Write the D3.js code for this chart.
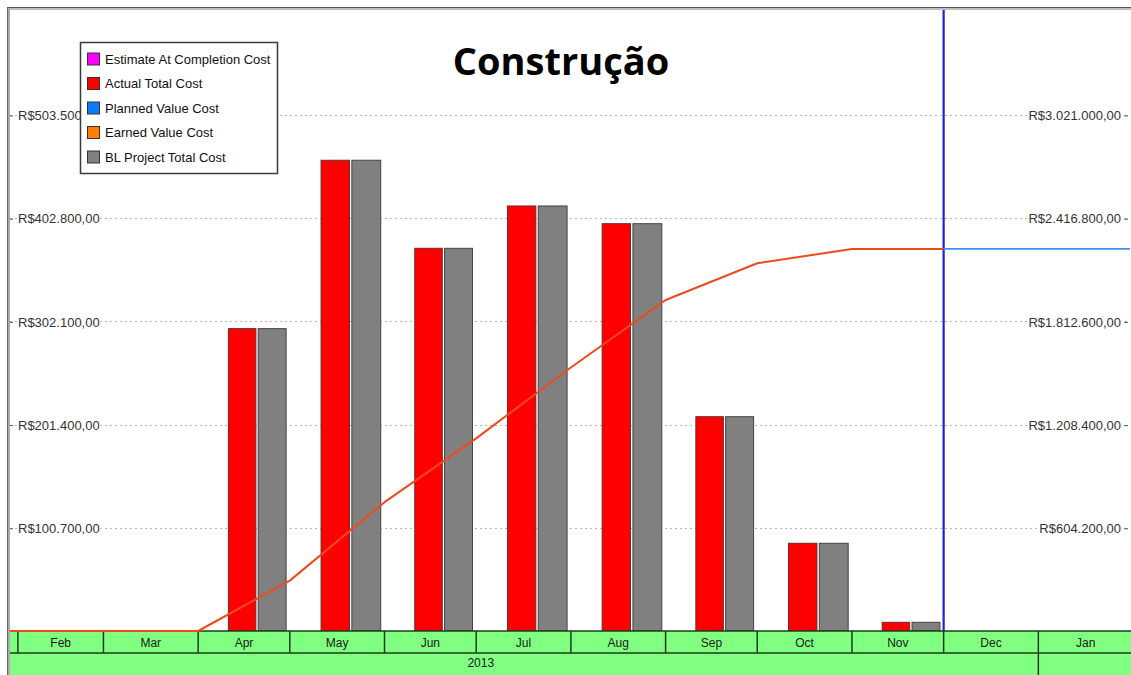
<!DOCTYPE html>
<html>
<head>
<meta charset="utf-8">
<script src="https://cdn.jsdelivr.net/npm/d3@7"></script>
<style>
  body { margin: 0; background: #fff; }
  svg { display: block; }
  text { font-family: "Liberation Sans", Arial, sans-serif; }
</style>
</head>
<body>
<svg id="chart" width="1131" height="675"></svg>
<script>
// ---- data -------------------------------------------------------------
const barMonths = ["2013-04-01", "2013-05-01", "2013-06-01", "2013-07-01",
                   "2013-08-01", "2013-09-01", "2013-10-01", "2013-11-01"];
const actualTotalCost    = [295000, 459300, 373400, 414700, 397400, 209100, 85600, 8500];
const blProjectTotalCost = [295000, 459300, 373400, 414700, 397400, 209100, 85600, 8500];

// cumulative earned value (right axis)
const earnedValueDates = ["2013-01-29", "2013-04-01", "2013-05-01", "2013-06-01", "2013-07-01",
                          "2013-08-01", "2013-09-01", "2013-10-01", "2013-11-01", "2013-12-01"];
const earnedValueCost  = [0, 0, 295000, 754300, 1127700, 1542400, 1938000, 2153000, 2236000, 2237000];

// planned value after the status date (right axis)
const plannedValueDates = ["2013-12-01", "2014-01-31"];
const plannedValueCost  = [2237000, 2237000];

const statusDate = "2013-12-01";

const leftTicks  = [100700, 201400, 302100, 402800, 503500];
const rightTicks = [604200, 1208400, 1812600, 2416800, 3021000];

const monthStarts = ["2013-02-01", "2013-03-01", "2013-04-01", "2013-05-01", "2013-06-01", "2013-07-01",
                     "2013-08-01", "2013-09-01", "2013-10-01", "2013-11-01", "2013-12-01", "2014-01-01"];
const monthLabels = ["Feb", "Mar", "Apr", "May", "Jun", "Jul", "Aug", "Sep", "Oct", "Nov", "Dec", "Jan"];
const yearStarts  = ["2013-01-01", "2014-01-01"];
const yearLabels  = ["2013", ""];

const legendNames  = ["Estimate At Completion Cost", "Actual Total Cost", "Planned Value Cost",
                      "Earned Value Cost", "BL Project Total Cost"];
const legendColors = ["#ff00ff", "#ff0000", "#0a7cff", "#ff8000", "#808080"];

const title = "Construção";

// ---- setup ------------------------------------------------------------
const parse = d3.utcParse("%Y-%m-%d");
const svg = d3.select("#chart");

const plot = { left: 10, right: 1130, top: 10, bottom: 631 };
const band = { monthTop: 631, monthBottom: 653, yearBottom: 675 };

const x = d3.scaleUtc()
  .domain([new Date(Date.UTC(2013, 0, 29, 10)), new Date(Date.UTC(2014, 0, 31))])
  .range([plot.left, plot.right]);

const yLeft = d3.scaleLinear().domain([0, 605900]).range([plot.bottom, plot.top]);
const yRight = d3.scaleLinear().domain([0, 605900 * 6]).range([plot.bottom, plot.top]);

const brl = d3.formatLocale({ decimal: ",", thousands: ".", grouping: [3], currency: ["R$", ""] });
const fmt = brl.format("$,.2f");

svg.append("defs").append("clipPath").attr("id", "bandClip")
  .append("rect").attr("x", plot.left).attr("y", band.monthTop)
  .attr("width", plot.right - plot.left).attr("height", band.yearBottom - band.monthTop);

// ---- gridlines --------------------------------------------------------
svg.append("g").selectAll("line").data(leftTicks).join("line")
  .attr("x1", plot.left).attr("x2", plot.right)
  .attr("y1", d => Math.round(yLeft(d)) + 0.5).attr("y2", d => Math.round(yLeft(d)) + 0.5)
  .attr("stroke", "#b5b5b5").attr("stroke-dasharray", "2,3");

// ---- axes -------------------------------------------------------------
function styleAxis(g) {
  g.select(".domain").remove();
  g.selectAll(".tick line").attr("stroke", "#555");
  g.selectAll(".tick text").attr("fill", "#333").attr("font-size", 13)
    .attr("font-family", "'Liberation Sans', Arial, sans-serif");
  g.selectAll(".tick").each(function () {
    const t = d3.select(this).select("text");
    const b = t.node().getBBox();
    d3.select(this).insert("rect", "text")
      .attr("x", b.x - 1).attr("y", b.y).attr("width", b.width + 2).attr("height", b.height)
      .attr("fill", "#fff");
  });
}

const leftAxis = svg.append("g")
  .attr("transform", `translate(${plot.left},0.5)`)
  .call(d3.axisRight(yLeft).tickValues(leftTicks).tickSize(3).tickPadding(5).tickFormat(fmt));
styleAxis(leftAxis);

const rightAxis = svg.append("g")
  .attr("transform", `translate(${plot.right - 2},0.5)`)
  .call(d3.axisLeft(yRight).tickValues(rightTicks).tickSize(4).tickPadding(3).tickFormat(fmt));
styleAxis(rightAxis);

// ---- bars -------------------------------------------------------------
const bars = barMonths.map((m, i) => {
  const start = parse(m);
  const end = d3.utcMonth.offset(start, 1);
  return { start, end, actual: actualTotalCost[i], bl: blProjectTotalCost[i] };
});

const barG = svg.append("g");
bars.forEach(b => {
  const x0 = x(b.start), w = x(b.end) - x0;
  barG.append("rect")
    .attr("x", x0 + 0.33 * w).attr("width", 0.30 * w)
    .attr("y", yLeft(b.actual)).attr("height", yLeft(0) - yLeft(b.actual))
    .attr("fill", "#ff0000").attr("stroke", "#6a2a2a").attr("stroke-width", 1);
  barG.append("rect")
    .attr("x", x0 + 0.655 * w).attr("width", 0.305 * w)
    .attr("y", yLeft(b.bl)).attr("height", yLeft(0) - yLeft(b.bl))
    .attr("fill", "#808080").attr("stroke", "#444").attr("stroke-width", 1);
});

// ---- status date ------------------------------------------------------
svg.append("line")
  .attr("x1", x(parse(statusDate))).attr("x2", x(parse(statusDate)))
  .attr("y1", plot.top).attr("y2", plot.bottom)
  .attr("stroke", "#1f1fd8").attr("stroke-width", 2.2);

// ---- lines ------------------------------------------------------------
const line = d3.line().x(d => x(d[0])).y(d => yRight(d[1]));

svg.append("path")
  .datum(plannedValueDates.map((d, i) => [parse(d), plannedValueCost[i]]))
  .attr("d", line).attr("fill", "none")
  .attr("stroke", "#3d8ff0").attr("stroke-width", 1.6);

// ---- time band --------------------------------------------------------
const bandG = svg.append("g");
bandG.append("rect")
  .attr("x", plot.left).attr("y", band.monthTop)
  .attr("width", plot.right - plot.left + 1).attr("height", band.yearBottom - band.monthTop)
  .attr("fill", "#80ff80");

const bandStroke = "#1e3a1e";
bandG.append("line").attr("x1", plot.left).attr("x2", plot.right + 1)
  .attr("y1", band.monthTop).attr("y2", band.monthTop)
  .attr("stroke", bandStroke).attr("stroke-width", 1.5);
bandG.append("line").attr("x1", plot.left).attr("x2", plot.right + 1)
  .attr("y1", band.monthBottom).attr("y2", band.monthBottom)
  .attr("stroke", bandStroke).attr("stroke-width", 1.5);

bandG.selectAll(".mdiv").data(monthStarts).join("line")
  .attr("class", "mdiv")
  .attr("x1", d => x(parse(d))).attr("x2", d => x(parse(d)))
  .attr("y1", band.monthTop).attr("y2", band.monthBottom)
  .attr("stroke", bandStroke).attr("stroke-width", 1.5);

bandG.selectAll(".ydiv").data(yearStarts).join("line")
  .attr("class", "ydiv")
  .attr("x1", d => x(parse(d))).attr("x2", d => x(parse(d)))
  .attr("y1", band.monthBottom).attr("y2", band.yearBottom)
  .attr("stroke", bandStroke).attr("stroke-width", 1.5)
  .attr("clip-path", "url(#bandClip)");

bandG.selectAll(".mlab").data(monthStarts).join("text")
  .attr("class", "mlab")
  .attr("x", d => (x(parse(d)) + x(d3.utcMonth.offset(parse(d), 1))) / 2)
  .attr("y", (band.monthTop + band.monthBottom) / 2 + 1)
  .attr("dy", "0.35em").attr("text-anchor", "middle")
  .attr("font-size", 12).attr("fill", "#1a1a1a")
  .text((d, i) => monthLabels[i]);

// year labels sit at the middle of their full year
bandG.append("g").attr("clip-path", "url(#bandClip)")
  .selectAll("text").data(yearStarts.filter((d, i) => yearLabels[i])).join("text")
  .attr("x", d => (x(parse(d)) + x(d3.utcYear.offset(parse(d), 1))) / 2)
  .attr("y", (band.monthBottom + band.yearBottom) / 2 - 1)
  .attr("dy", "0.35em").attr("text-anchor", "middle")
  .attr("font-size", 12).attr("fill", "#1a1a1a")
  .text((d, i) => yearLabels[i]);

// earned value line drawn over the band border
svg.append("path")
  .datum(earnedValueDates.map((d, i) => [parse(d), earnedValueCost[i]]))
  .attr("d", line).attr("fill", "none")
  .attr("stroke", "#ee4a1c").attr("stroke-width", 2)
  .attr("stroke-linejoin", "round");

// ---- frame ------------------------------------------------------------
svg.append("line").attr("x1", 7).attr("x2", 1131).attr("y1", 7.5).attr("y2", 7.5)
  .attr("stroke", "#555").attr("stroke-width", 1);
svg.append("line").attr("x1", 8).attr("x2", 1131).attr("y1", 9).attr("y2", 9)
  .attr("stroke", "#aaa").attr("stroke-width", 1.5);
svg.append("line").attr("x1", 7.5).attr("x2", 7.5).attr("y1", 7).attr("y2", 675)
  .attr("stroke", "#666").attr("stroke-width", 1);
svg.append("line").attr("x1", 9).attr("x2", 9).attr("y1", 8).attr("y2", 675)
  .attr("stroke", "#aaa").attr("stroke-width", 2);

// ---- title ------------------------------------------------------------
svg.append("text")
  .attr("x", 561).attr("y", 75)
  .attr("text-anchor", "middle")
  .style("font-family", "'Open Sans', 'Noto Sans', sans-serif")
  .attr("font-weight", 700).attr("font-size", 38).attr("fill", "#000")
  .text(title);

// ---- legend -----------------------------------------------------------
const lg = svg.append("g");
lg.append("rect")
  .attr("x", 80.5).attr("y", 42.5).attr("width", 197).attr("height", 131)
  .attr("fill", "#fff").attr("stroke", "#3a3a3a").attr("stroke-width", 1.5);
const rows = lg.selectAll(".item").data(legendNames).join("g")
  .attr("class", "item")
  .attr("transform", (d, i) => `translate(0,${59 + i * 24.5})`);
rows.append("rect")
  .attr("x", 87.5).attr("y", -6).attr("width", 12).attr("height", 12)
  .attr("fill", (d, i) => legendColors[i]).attr("stroke", "#333").attr("stroke-width", 1);
rows.append("text")
  .attr("x", 105).attr("y", 0).attr("dy", "0.35em")
  .attr("font-size", 13).attr("fill", "#111")
  .text(d => d);
</script>
</body>
</html>
